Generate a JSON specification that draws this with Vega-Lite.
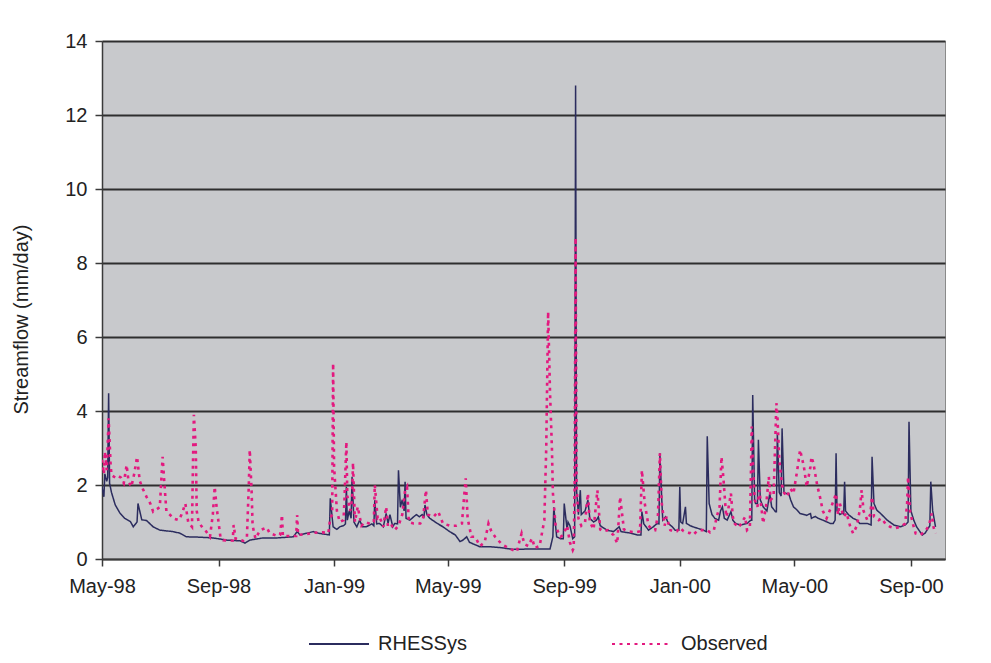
{
  "$schema": "https://vega.github.io/schema/vega-lite/v6.json",
  "width": 843,
  "height": 518,
  "autosize": {"type": "none"},
  "padding": {"left": 102, "top": 41, "right": 46, "bottom": 104},
  "background": "white",
  "config": {
    "font": "Liberation Sans",
    "view": {"fill": "#c8c9cc", "stroke": "#8a8a8a", "strokeWidth": 1}
  },
  "data": {"values": [
    {"series":"RHESSys","date":"1998-05-01","flow":1.95},
    {"series":"RHESSys","date":"1998-05-03","flow":1.68},
    {"series":"RHESSys","date":"1998-05-04","flow":2.3},
    {"series":"RHESSys","date":"1998-05-06","flow":2.1},
    {"series":"RHESSys","date":"1998-05-07","flow":2.2},
    {"series":"RHESSys","date":"1998-05-08","flow":4.48},
    {"series":"RHESSys","date":"1998-05-09","flow":2.05},
    {"series":"RHESSys","date":"1998-05-11","flow":1.8},
    {"series":"RHESSys","date":"1998-05-15","flow":1.46},
    {"series":"RHESSys","date":"1998-05-20","flow":1.24},
    {"series":"RHESSys","date":"1998-05-25","flow":1.1},
    {"series":"RHESSys","date":"1998-05-31","flow":1.01},
    {"series":"RHESSys","date":"1998-06-03","flow":0.87},
    {"series":"RHESSys","date":"1998-06-07","flow":1.0},
    {"series":"RHESSys","date":"1998-06-08","flow":1.5},
    {"series":"RHESSys","date":"1998-06-12","flow":1.06},
    {"series":"RHESSys","date":"1998-06-17","flow":1.04},
    {"series":"RHESSys","date":"1998-06-24","flow":0.87},
    {"series":"RHESSys","date":"1998-07-01","flow":0.78},
    {"series":"RHESSys","date":"1998-07-08","flow":0.76},
    {"series":"RHESSys","date":"1998-07-15","flow":0.74},
    {"series":"RHESSys","date":"1998-07-22","flow":0.7},
    {"series":"RHESSys","date":"1998-07-29","flow":0.6},
    {"series":"RHESSys","date":"1998-08-12","flow":0.59},
    {"series":"RHESSys","date":"1998-08-26","flow":0.57},
    {"series":"RHESSys","date":"1998-09-10","flow":0.51},
    {"series":"RHESSys","date":"1998-09-24","flow":0.49},
    {"series":"RHESSys","date":"1998-09-29","flow":0.43},
    {"series":"RHESSys","date":"1998-10-04","flow":0.51},
    {"series":"RHESSys","date":"1998-10-18","flow":0.57},
    {"series":"RHESSys","date":"1998-11-02","flow":0.57},
    {"series":"RHESSys","date":"1998-11-19","flow":0.6},
    {"series":"RHESSys","date":"1998-11-23","flow":0.74},
    {"series":"RHESSys","date":"1998-11-26","flow":0.65},
    {"series":"RHESSys","date":"1998-12-10","flow":0.74},
    {"series":"RHESSys","date":"1998-12-15","flow":0.7},
    {"series":"RHESSys","date":"1998-12-27","flow":0.65},
    {"series":"RHESSys","date":"1998-12-28","flow":1.64},
    {"series":"RHESSys","date":"1998-12-31","flow":0.87},
    {"series":"RHESSys","date":"1999-01-04","flow":0.8},
    {"series":"RHESSys","date":"1999-01-07","flow":0.87},
    {"series":"RHESSys","date":"1999-01-11","flow":0.9},
    {"series":"RHESSys","date":"1999-01-13","flow":0.95},
    {"series":"RHESSys","date":"1999-01-14","flow":1.95},
    {"series":"RHESSys","date":"1999-01-15","flow":1.05},
    {"series":"RHESSys","date":"1999-01-17","flow":1.3},
    {"series":"RHESSys","date":"1999-01-19","flow":1.1},
    {"series":"RHESSys","date":"1999-01-20","flow":2.22},
    {"series":"RHESSys","date":"1999-01-22","flow":1.0},
    {"series":"RHESSys","date":"1999-01-25","flow":0.87},
    {"series":"RHESSys","date":"1999-01-28","flow":1.05},
    {"series":"RHESSys","date":"1999-01-31","flow":0.87},
    {"series":"RHESSys","date":"1999-02-04","flow":0.87},
    {"series":"RHESSys","date":"1999-02-10","flow":0.95},
    {"series":"RHESSys","date":"1999-02-12","flow":0.9},
    {"series":"RHESSys","date":"1999-02-13","flow":1.59},
    {"series":"RHESSys","date":"1999-02-15","flow":0.95},
    {"series":"RHESSys","date":"1999-02-18","flow":0.96},
    {"series":"RHESSys","date":"1999-02-22","flow":0.87},
    {"series":"RHESSys","date":"1999-02-25","flow":1.23},
    {"series":"RHESSys","date":"1999-02-27","flow":0.96},
    {"series":"RHESSys","date":"1999-03-01","flow":1.2},
    {"series":"RHESSys","date":"1999-03-04","flow":0.87},
    {"series":"RHESSys","date":"1999-03-06","flow":0.96},
    {"series":"RHESSys","date":"1999-03-09","flow":0.95},
    {"series":"RHESSys","date":"1999-03-10","flow":2.4},
    {"series":"RHESSys","date":"1999-03-12","flow":1.4},
    {"series":"RHESSys","date":"1999-03-14","flow":1.6},
    {"series":"RHESSys","date":"1999-03-16","flow":1.3},
    {"series":"RHESSys","date":"1999-03-17","flow":2.09},
    {"series":"RHESSys","date":"1999-03-18","flow":1.1},
    {"series":"RHESSys","date":"1999-03-22","flow":1.05},
    {"series":"RHESSys","date":"1999-03-26","flow":1.14},
    {"series":"RHESSys","date":"1999-03-29","flow":1.2},
    {"series":"RHESSys","date":"1999-04-01","flow":1.14},
    {"series":"RHESSys","date":"1999-04-04","flow":1.2},
    {"series":"RHESSys","date":"1999-04-06","flow":1.15},
    {"series":"RHESSys","date":"1999-04-07","flow":1.46},
    {"series":"RHESSys","date":"1999-04-09","flow":1.2},
    {"series":"RHESSys","date":"1999-04-12","flow":1.1},
    {"series":"RHESSys","date":"1999-04-20","flow":0.96},
    {"series":"RHESSys","date":"1999-04-26","flow":0.87},
    {"series":"RHESSys","date":"1999-05-03","flow":0.74},
    {"series":"RHESSys","date":"1999-05-09","flow":0.65},
    {"series":"RHESSys","date":"1999-05-14","flow":0.47},
    {"series":"RHESSys","date":"1999-05-17","flow":0.51},
    {"series":"RHESSys","date":"1999-05-21","flow":0.6},
    {"series":"RHESSys","date":"1999-05-24","flow":0.45},
    {"series":"RHESSys","date":"1999-06-04","flow":0.33},
    {"series":"RHESSys","date":"1999-06-15","flow":0.33},
    {"series":"RHESSys","date":"1999-06-25","flow":0.31},
    {"series":"RHESSys","date":"1999-07-09","flow":0.26},
    {"series":"RHESSys","date":"1999-07-27","flow":0.27},
    {"series":"RHESSys","date":"1999-08-17","flow":0.27},
    {"series":"RHESSys","date":"1999-08-20","flow":0.6},
    {"series":"RHESSys","date":"1999-08-21","flow":1.4},
    {"series":"RHESSys","date":"1999-08-24","flow":0.6},
    {"series":"RHESSys","date":"1999-08-28","flow":0.55},
    {"series":"RHESSys","date":"1999-08-31","flow":0.55},
    {"series":"RHESSys","date":"1999-09-01","flow":1.5},
    {"series":"RHESSys","date":"1999-09-04","flow":0.8},
    {"series":"RHESSys","date":"1999-09-05","flow":1.0},
    {"series":"RHESSys","date":"1999-09-07","flow":0.9},
    {"series":"RHESSys","date":"1999-09-10","flow":0.55},
    {"series":"RHESSys","date":"1999-09-12","flow":0.6},
    {"series":"RHESSys","date":"1999-09-13","flow":12.8},
    {"series":"RHESSys","date":"1999-09-14","flow":1.86},
    {"series":"RHESSys","date":"1999-09-16","flow":1.2},
    {"series":"RHESSys","date":"1999-09-18","flow":1.86},
    {"series":"RHESSys","date":"1999-09-19","flow":1.2},
    {"series":"RHESSys","date":"1999-09-23","flow":1.3},
    {"series":"RHESSys","date":"1999-09-26","flow":1.59},
    {"series":"RHESSys","date":"1999-09-28","flow":1.1},
    {"series":"RHESSys","date":"1999-10-02","flow":1.0},
    {"series":"RHESSys","date":"1999-10-05","flow":1.05},
    {"series":"RHESSys","date":"1999-10-07","flow":1.14},
    {"series":"RHESSys","date":"1999-10-09","flow":0.9},
    {"series":"RHESSys","date":"1999-10-16","flow":0.78},
    {"series":"RHESSys","date":"1999-10-23","flow":0.74},
    {"series":"RHESSys","date":"1999-10-29","flow":0.87},
    {"series":"RHESSys","date":"1999-10-31","flow":0.74},
    {"series":"RHESSys","date":"1999-11-10","flow":0.7},
    {"series":"RHESSys","date":"1999-11-17","flow":0.65},
    {"series":"RHESSys","date":"1999-11-21","flow":0.65},
    {"series":"RHESSys","date":"1999-11-22","flow":1.28},
    {"series":"RHESSys","date":"1999-11-24","flow":0.95},
    {"series":"RHESSys","date":"1999-11-29","flow":0.78},
    {"series":"RHESSys","date":"1999-12-04","flow":0.87},
    {"series":"RHESSys","date":"1999-12-08","flow":0.96},
    {"series":"RHESSys","date":"1999-12-10","flow":0.95},
    {"series":"RHESSys","date":"1999-12-11","flow":2.86},
    {"series":"RHESSys","date":"1999-12-13","flow":1.6},
    {"series":"RHESSys","date":"1999-12-14","flow":1.05},
    {"series":"RHESSys","date":"1999-12-17","flow":1.14},
    {"series":"RHESSys","date":"1999-12-20","flow":0.96},
    {"series":"RHESSys","date":"1999-12-24","flow":0.87},
    {"series":"RHESSys","date":"1999-12-27","flow":0.78},
    {"series":"RHESSys","date":"1999-12-31","flow":0.78},
    {"series":"RHESSys","date":"2000-01-01","flow":1.95},
    {"series":"RHESSys","date":"2000-01-02","flow":1.0},
    {"series":"RHESSys","date":"2000-01-04","flow":0.96},
    {"series":"RHESSys","date":"2000-01-07","flow":1.41},
    {"series":"RHESSys","date":"2000-01-08","flow":0.96},
    {"series":"RHESSys","date":"2000-01-12","flow":0.9},
    {"series":"RHESSys","date":"2000-01-15","flow":0.87},
    {"series":"RHESSys","date":"2000-01-21","flow":0.82},
    {"series":"RHESSys","date":"2000-01-26","flow":0.78},
    {"series":"RHESSys","date":"2000-01-29","flow":0.74},
    {"series":"RHESSys","date":"2000-01-30","flow":3.32},
    {"series":"RHESSys","date":"2000-02-01","flow":1.5},
    {"series":"RHESSys","date":"2000-02-04","flow":1.2},
    {"series":"RHESSys","date":"2000-02-07","flow":1.1},
    {"series":"RHESSys","date":"2000-02-11","flow":1.05},
    {"series":"RHESSys","date":"2000-02-13","flow":1.3},
    {"series":"RHESSys","date":"2000-02-15","flow":1.41},
    {"series":"RHESSys","date":"2000-02-17","flow":1.1},
    {"series":"RHESSys","date":"2000-02-20","flow":1.05},
    {"series":"RHESSys","date":"2000-02-24","flow":1.28},
    {"series":"RHESSys","date":"2000-02-26","flow":1.05},
    {"series":"RHESSys","date":"2000-02-29","flow":0.96},
    {"series":"RHESSys","date":"2000-03-05","flow":0.92},
    {"series":"RHESSys","date":"2000-03-12","flow":0.96},
    {"series":"RHESSys","date":"2000-03-16","flow":1.05},
    {"series":"RHESSys","date":"2000-03-17","flow":1.05},
    {"series":"RHESSys","date":"2000-03-18","flow":4.43},
    {"series":"RHESSys","date":"2000-03-20","flow":1.6},
    {"series":"RHESSys","date":"2000-03-21","flow":1.5},
    {"series":"RHESSys","date":"2000-03-23","flow":1.5},
    {"series":"RHESSys","date":"2000-03-24","flow":3.22},
    {"series":"RHESSys","date":"2000-03-26","flow":1.6},
    {"series":"RHESSys","date":"2000-03-29","flow":1.41},
    {"series":"RHESSys","date":"2000-04-02","flow":1.3},
    {"series":"RHESSys","date":"2000-04-05","flow":1.77},
    {"series":"RHESSys","date":"2000-04-07","flow":1.41},
    {"series":"RHESSys","date":"2000-04-11","flow":1.28},
    {"series":"RHESSys","date":"2000-04-12","flow":1.28},
    {"series":"RHESSys","date":"2000-04-13","flow":3.4},
    {"series":"RHESSys","date":"2000-04-15","flow":1.8},
    {"series":"RHESSys","date":"2000-04-17","flow":1.7},
    {"series":"RHESSys","date":"2000-04-18","flow":3.53},
    {"series":"RHESSys","date":"2000-04-20","flow":1.8},
    {"series":"RHESSys","date":"2000-04-22","flow":1.77},
    {"series":"RHESSys","date":"2000-04-25","flow":1.77},
    {"series":"RHESSys","date":"2000-04-27","flow":1.6},
    {"series":"RHESSys","date":"2000-04-30","flow":1.41},
    {"series":"RHESSys","date":"2000-05-04","flow":1.32},
    {"series":"RHESSys","date":"2000-05-07","flow":1.23},
    {"series":"RHESSys","date":"2000-05-14","flow":1.18},
    {"series":"RHESSys","date":"2000-05-18","flow":1.23},
    {"series":"RHESSys","date":"2000-05-19","flow":1.1},
    {"series":"RHESSys","date":"2000-05-23","flow":1.15},
    {"series":"RHESSys","date":"2000-05-26","flow":1.1},
    {"series":"RHESSys","date":"2000-05-31","flow":1.05},
    {"series":"RHESSys","date":"2000-06-08","flow":0.96},
    {"series":"RHESSys","date":"2000-06-11","flow":0.96},
    {"series":"RHESSys","date":"2000-06-13","flow":1.05},
    {"series":"RHESSys","date":"2000-06-14","flow":2.86},
    {"series":"RHESSys","date":"2000-06-15","flow":1.3},
    {"series":"RHESSys","date":"2000-06-18","flow":1.2},
    {"series":"RHESSys","date":"2000-06-21","flow":1.25},
    {"series":"RHESSys","date":"2000-06-22","flow":1.2},
    {"series":"RHESSys","date":"2000-06-23","flow":2.09},
    {"series":"RHESSys","date":"2000-06-24","flow":1.3},
    {"series":"RHESSys","date":"2000-06-27","flow":1.2},
    {"series":"RHESSys","date":"2000-07-02","flow":1.1},
    {"series":"RHESSys","date":"2000-07-06","flow":1.05},
    {"series":"RHESSys","date":"2000-07-09","flow":0.96},
    {"series":"RHESSys","date":"2000-07-17","flow":0.96},
    {"series":"RHESSys","date":"2000-07-21","flow":0.92},
    {"series":"RHESSys","date":"2000-07-22","flow":2.76},
    {"series":"RHESSys","date":"2000-07-24","flow":1.5},
    {"series":"RHESSys","date":"2000-07-27","flow":1.32},
    {"series":"RHESSys","date":"2000-07-31","flow":1.23},
    {"series":"RHESSys","date":"2000-08-07","flow":1.05},
    {"series":"RHESSys","date":"2000-08-14","flow":0.92},
    {"series":"RHESSys","date":"2000-08-21","flow":0.87},
    {"series":"RHESSys","date":"2000-08-26","flow":0.92},
    {"series":"RHESSys","date":"2000-08-29","flow":1.0},
    {"series":"RHESSys","date":"2000-08-30","flow":3.71},
    {"series":"RHESSys","date":"2000-09-01","flow":1.3},
    {"series":"RHESSys","date":"2000-09-04","flow":1.05},
    {"series":"RHESSys","date":"2000-09-07","flow":0.87},
    {"series":"RHESSys","date":"2000-09-13","flow":0.65},
    {"series":"RHESSys","date":"2000-09-16","flow":0.7},
    {"series":"RHESSys","date":"2000-09-21","flow":0.9},
    {"series":"RHESSys","date":"2000-09-22","flow":2.09},
    {"series":"RHESSys","date":"2000-09-24","flow":1.3},
    {"series":"RHESSys","date":"2000-09-27","flow":0.87},
    {"series":"Observed","date":"1998-05-01","flow":2.68},
    {"series":"Observed","date":"1998-05-03","flow":2.3},
    {"series":"Observed","date":"1998-05-04","flow":2.9},
    {"series":"Observed","date":"1998-05-06","flow":2.4},
    {"series":"Observed","date":"1998-05-07","flow":3.1},
    {"series":"Observed","date":"1998-05-08","flow":3.8},
    {"series":"Observed","date":"1998-05-10","flow":2.6},
    {"series":"Observed","date":"1998-05-11","flow":2.27},
    {"series":"Observed","date":"1998-05-15","flow":2.2},
    {"series":"Observed","date":"1998-05-18","flow":2.25},
    {"series":"Observed","date":"1998-05-21","flow":2.2},
    {"series":"Observed","date":"1998-05-24","flow":2.05},
    {"series":"Observed","date":"1998-05-27","flow":2.54},
    {"series":"Observed","date":"1998-05-29","flow":2.1},
    {"series":"Observed","date":"1998-06-01","flow":1.95},
    {"series":"Observed","date":"1998-06-04","flow":2.3},
    {"series":"Observed","date":"1998-06-07","flow":2.76},
    {"series":"Observed","date":"1998-06-09","flow":2.3},
    {"series":"Observed","date":"1998-06-10","flow":2.1},
    {"series":"Observed","date":"1998-06-13","flow":1.9},
    {"series":"Observed","date":"1998-06-17","flow":1.68},
    {"series":"Observed","date":"1998-06-21","flow":1.5},
    {"series":"Observed","date":"1998-06-24","flow":1.28},
    {"series":"Observed","date":"1998-06-28","flow":1.35},
    {"series":"Observed","date":"1998-07-01","flow":1.4},
    {"series":"Observed","date":"1998-07-04","flow":2.76},
    {"series":"Observed","date":"1998-07-06","flow":2.0},
    {"series":"Observed","date":"1998-07-08","flow":1.28},
    {"series":"Observed","date":"1998-07-12","flow":1.19},
    {"series":"Observed","date":"1998-07-15","flow":1.1},
    {"series":"Observed","date":"1998-07-21","flow":1.05},
    {"series":"Observed","date":"1998-07-24","flow":1.2},
    {"series":"Observed","date":"1998-07-28","flow":1.5},
    {"series":"Observed","date":"1998-07-31","flow":1.0},
    {"series":"Observed","date":"1998-08-04","flow":0.87},
    {"series":"Observed","date":"1998-08-05","flow":2.5},
    {"series":"Observed","date":"1998-08-06","flow":3.9},
    {"series":"Observed","date":"1998-08-08","flow":3.0},
    {"series":"Observed","date":"1998-08-09","flow":1.3},
    {"series":"Observed","date":"1998-08-11","flow":1.0},
    {"series":"Observed","date":"1998-08-15","flow":0.85},
    {"series":"Observed","date":"1998-08-18","flow":0.78},
    {"series":"Observed","date":"1998-08-23","flow":0.6},
    {"series":"Observed","date":"1998-08-26","flow":1.2},
    {"series":"Observed","date":"1998-08-28","flow":1.95},
    {"series":"Observed","date":"1998-08-30","flow":1.4},
    {"series":"Observed","date":"1998-09-03","flow":0.6},
    {"series":"Observed","date":"1998-09-06","flow":0.51},
    {"series":"Observed","date":"1998-09-11","flow":0.5},
    {"series":"Observed","date":"1998-09-16","flow":0.5},
    {"series":"Observed","date":"1998-09-17","flow":0.92},
    {"series":"Observed","date":"1998-09-19","flow":0.55},
    {"series":"Observed","date":"1998-09-27","flow":0.49},
    {"series":"Observed","date":"1998-10-01","flow":0.6},
    {"series":"Observed","date":"1998-10-03","flow":2.0},
    {"series":"Observed","date":"1998-10-04","flow":2.95},
    {"series":"Observed","date":"1998-10-06","flow":1.8},
    {"series":"Observed","date":"1998-10-07","flow":0.9},
    {"series":"Observed","date":"1998-10-10","flow":0.55},
    {"series":"Observed","date":"1998-10-15","flow":0.78},
    {"series":"Observed","date":"1998-10-22","flow":0.85},
    {"series":"Observed","date":"1998-10-25","flow":0.7},
    {"series":"Observed","date":"1998-11-02","flow":0.62},
    {"series":"Observed","date":"1998-11-05","flow":0.65},
    {"series":"Observed","date":"1998-11-07","flow":1.19},
    {"series":"Observed","date":"1998-11-08","flow":0.62},
    {"series":"Observed","date":"1998-11-16","flow":0.62},
    {"series":"Observed","date":"1998-11-22","flow":0.62},
    {"series":"Observed","date":"1998-11-23","flow":1.19},
    {"series":"Observed","date":"1998-11-24","flow":0.65},
    {"series":"Observed","date":"1998-12-03","flow":0.67},
    {"series":"Observed","date":"1998-12-08","flow":0.7},
    {"series":"Observed","date":"1998-12-15","flow":0.72},
    {"series":"Observed","date":"1998-12-20","flow":0.72},
    {"series":"Observed","date":"1998-12-26","flow":0.7},
    {"series":"Observed","date":"1998-12-28","flow":1.1},
    {"series":"Observed","date":"1998-12-30","flow":1.2},
    {"series":"Observed","date":"1998-12-31","flow":5.29},
    {"series":"Observed","date":"1999-01-01","flow":2.5},
    {"series":"Observed","date":"1999-01-04","flow":1.3},
    {"series":"Observed","date":"1999-01-07","flow":1.0},
    {"series":"Observed","date":"1999-01-11","flow":1.05},
    {"series":"Observed","date":"1999-01-12","flow":1.6},
    {"series":"Observed","date":"1999-01-14","flow":3.17},
    {"series":"Observed","date":"1999-01-15","flow":1.7},
    {"series":"Observed","date":"1999-01-18","flow":1.3},
    {"series":"Observed","date":"1999-01-20","flow":1.6},
    {"series":"Observed","date":"1999-01-21","flow":2.6},
    {"series":"Observed","date":"1999-01-23","flow":1.0},
    {"series":"Observed","date":"1999-01-26","flow":1.41},
    {"series":"Observed","date":"1999-01-30","flow":0.9},
    {"series":"Observed","date":"1999-02-03","flow":1.0},
    {"series":"Observed","date":"1999-02-08","flow":0.95},
    {"series":"Observed","date":"1999-02-12","flow":1.0},
    {"series":"Observed","date":"1999-02-13","flow":2.0},
    {"series":"Observed","date":"1999-02-16","flow":1.1},
    {"series":"Observed","date":"1999-02-18","flow":1.14},
    {"series":"Observed","date":"1999-02-22","flow":0.87},
    {"series":"Observed","date":"1999-02-25","flow":1.41},
    {"series":"Observed","date":"1999-02-27","flow":0.85},
    {"series":"Observed","date":"1999-03-03","flow":0.9},
    {"series":"Observed","date":"1999-03-06","flow":0.78},
    {"series":"Observed","date":"1999-03-10","flow":0.9},
    {"series":"Observed","date":"1999-03-14","flow":1.2},
    {"series":"Observed","date":"1999-03-17","flow":1.86},
    {"series":"Observed","date":"1999-03-19","flow":1.95},
    {"series":"Observed","date":"1999-03-21","flow":1.0},
    {"series":"Observed","date":"1999-03-26","flow":0.96},
    {"series":"Observed","date":"1999-04-02","flow":0.96},
    {"series":"Observed","date":"1999-04-05","flow":1.1},
    {"series":"Observed","date":"1999-04-08","flow":1.86},
    {"series":"Observed","date":"1999-04-10","flow":1.2},
    {"series":"Observed","date":"1999-04-16","flow":1.14},
    {"series":"Observed","date":"1999-04-21","flow":1.28},
    {"series":"Observed","date":"1999-04-26","flow":0.96},
    {"series":"Observed","date":"1999-05-03","flow":0.9},
    {"series":"Observed","date":"1999-05-10","flow":0.9},
    {"series":"Observed","date":"1999-05-16","flow":0.96},
    {"series":"Observed","date":"1999-05-18","flow":1.6},
    {"series":"Observed","date":"1999-05-20","flow":2.18},
    {"series":"Observed","date":"1999-05-22","flow":1.1},
    {"series":"Observed","date":"1999-05-26","flow":0.6},
    {"series":"Observed","date":"1999-05-30","flow":0.6},
    {"series":"Observed","date":"1999-06-04","flow":0.35},
    {"series":"Observed","date":"1999-06-09","flow":0.45},
    {"series":"Observed","date":"1999-06-13","flow":0.96},
    {"series":"Observed","date":"1999-06-16","flow":0.75},
    {"series":"Observed","date":"1999-06-20","flow":0.6},
    {"series":"Observed","date":"1999-06-27","flow":0.4},
    {"series":"Observed","date":"1999-07-04","flow":0.3},
    {"series":"Observed","date":"1999-07-09","flow":0.24},
    {"series":"Observed","date":"1999-07-13","flow":0.2},
    {"series":"Observed","date":"1999-07-16","flow":0.51},
    {"series":"Observed","date":"1999-07-18","flow":0.69},
    {"series":"Observed","date":"1999-07-21","flow":0.4},
    {"series":"Observed","date":"1999-07-25","flow":0.35},
    {"series":"Observed","date":"1999-07-29","flow":0.56},
    {"series":"Observed","date":"1999-08-01","flow":0.3},
    {"series":"Observed","date":"1999-08-06","flow":0.35},
    {"series":"Observed","date":"1999-08-11","flow":1.05},
    {"series":"Observed","date":"1999-08-13","flow":3.0},
    {"series":"Observed","date":"1999-08-15","flow":6.68},
    {"series":"Observed","date":"1999-08-17","flow":4.5},
    {"series":"Observed","date":"1999-08-19","flow":3.0},
    {"series":"Observed","date":"1999-08-20","flow":1.8},
    {"series":"Observed","date":"1999-08-23","flow":0.87},
    {"series":"Observed","date":"1999-08-28","flow":0.6},
    {"series":"Observed","date":"1999-08-31","flow":0.65},
    {"series":"Observed","date":"1999-09-04","flow":0.9},
    {"series":"Observed","date":"1999-09-07","flow":0.45},
    {"series":"Observed","date":"1999-09-10","flow":0.24},
    {"series":"Observed","date":"1999-09-11","flow":0.3},
    {"series":"Observed","date":"1999-09-12","flow":2.0},
    {"series":"Observed","date":"1999-09-13","flow":8.68},
    {"series":"Observed","date":"1999-09-14","flow":2.0},
    {"series":"Observed","date":"1999-09-16","flow":1.1},
    {"series":"Observed","date":"1999-09-19","flow":0.9},
    {"series":"Observed","date":"1999-09-23","flow":1.0},
    {"series":"Observed","date":"1999-09-26","flow":1.77},
    {"series":"Observed","date":"1999-09-28","flow":1.0},
    {"series":"Observed","date":"1999-10-02","flow":0.8},
    {"series":"Observed","date":"1999-10-06","flow":1.86},
    {"series":"Observed","date":"1999-10-09","flow":0.8},
    {"series":"Observed","date":"1999-10-12","flow":0.75},
    {"series":"Observed","date":"1999-10-17","flow":0.78},
    {"series":"Observed","date":"1999-10-23","flow":0.65},
    {"series":"Observed","date":"1999-10-27","flow":0.42},
    {"series":"Observed","date":"1999-10-30","flow":1.68},
    {"series":"Observed","date":"1999-11-03","flow":0.8},
    {"series":"Observed","date":"1999-11-07","flow":0.75},
    {"series":"Observed","date":"1999-11-15","flow":0.72},
    {"series":"Observed","date":"1999-11-20","flow":0.75},
    {"series":"Observed","date":"1999-11-22","flow":2.4},
    {"series":"Observed","date":"1999-11-25","flow":1.5},
    {"series":"Observed","date":"1999-11-29","flow":0.9},
    {"series":"Observed","date":"1999-12-03","flow":0.8},
    {"series":"Observed","date":"1999-12-06","flow":0.78},
    {"series":"Observed","date":"1999-12-09","flow":1.2},
    {"series":"Observed","date":"1999-12-11","flow":2.86},
    {"series":"Observed","date":"1999-12-13","flow":1.5},
    {"series":"Observed","date":"1999-12-16","flow":0.9},
    {"series":"Observed","date":"1999-12-18","flow":1.14},
    {"series":"Observed","date":"1999-12-22","flow":0.78},
    {"series":"Observed","date":"1999-12-25","flow":0.75},
    {"series":"Observed","date":"1999-12-29","flow":0.75},
    {"series":"Observed","date":"2000-01-01","flow":0.85},
    {"series":"Observed","date":"2000-01-05","flow":0.75},
    {"series":"Observed","date":"2000-01-08","flow":0.72},
    {"series":"Observed","date":"2000-01-12","flow":0.7},
    {"series":"Observed","date":"2000-01-15","flow":0.65},
    {"series":"Observed","date":"2000-01-19","flow":0.75},
    {"series":"Observed","date":"2000-01-22","flow":0.78},
    {"series":"Observed","date":"2000-01-30","flow":0.78},
    {"series":"Observed","date":"2000-02-02","flow":0.72},
    {"series":"Observed","date":"2000-02-06","flow":0.78},
    {"series":"Observed","date":"2000-02-09","flow":1.14},
    {"series":"Observed","date":"2000-02-12","flow":1.41},
    {"series":"Observed","date":"2000-02-14","flow":2.76},
    {"series":"Observed","date":"2000-02-16","flow":2.2},
    {"series":"Observed","date":"2000-02-19","flow":1.14},
    {"series":"Observed","date":"2000-02-21","flow":1.32},
    {"series":"Observed","date":"2000-02-24","flow":1.77},
    {"series":"Observed","date":"2000-02-26","flow":1.14},
    {"series":"Observed","date":"2000-02-28","flow":0.96},
    {"series":"Observed","date":"2000-03-03","flow":0.85},
    {"series":"Observed","date":"2000-03-06","flow":0.96},
    {"series":"Observed","date":"2000-03-10","flow":1.14},
    {"series":"Observed","date":"2000-03-12","flow":0.78},
    {"series":"Observed","date":"2000-03-15","flow":0.85},
    {"series":"Observed","date":"2000-03-17","flow":3.58},
    {"series":"Observed","date":"2000-03-18","flow":2.7},
    {"series":"Observed","date":"2000-03-20","flow":1.6},
    {"series":"Observed","date":"2000-03-23","flow":1.41},
    {"series":"Observed","date":"2000-03-25","flow":1.86},
    {"series":"Observed","date":"2000-03-28","flow":1.2},
    {"series":"Observed","date":"2000-03-29","flow":0.96},
    {"series":"Observed","date":"2000-04-01","flow":1.41},
    {"series":"Observed","date":"2000-04-04","flow":2.22},
    {"series":"Observed","date":"2000-04-06","flow":1.6},
    {"series":"Observed","date":"2000-04-09","flow":1.68},
    {"series":"Observed","date":"2000-04-12","flow":4.21},
    {"series":"Observed","date":"2000-04-13","flow":3.9},
    {"series":"Observed","date":"2000-04-15","flow":2.7},
    {"series":"Observed","date":"2000-04-18","flow":2.0},
    {"series":"Observed","date":"2000-04-20","flow":1.8},
    {"series":"Observed","date":"2000-04-23","flow":1.68},
    {"series":"Observed","date":"2000-04-27","flow":1.9},
    {"series":"Observed","date":"2000-04-30","flow":1.77},
    {"series":"Observed","date":"2000-05-04","flow":2.4},
    {"series":"Observed","date":"2000-05-07","flow":2.95},
    {"series":"Observed","date":"2000-05-11","flow":2.5},
    {"series":"Observed","date":"2000-05-14","flow":1.95},
    {"series":"Observed","date":"2000-05-18","flow":2.5},
    {"series":"Observed","date":"2000-05-19","flow":2.76},
    {"series":"Observed","date":"2000-05-21","flow":2.6},
    {"series":"Observed","date":"2000-05-25","flow":2.0},
    {"series":"Observed","date":"2000-05-28","flow":1.68},
    {"series":"Observed","date":"2000-05-31","flow":1.3},
    {"series":"Observed","date":"2000-06-04","flow":1.1},
    {"series":"Observed","date":"2000-06-08","flow":1.35},
    {"series":"Observed","date":"2000-06-11","flow":1.55},
    {"series":"Observed","date":"2000-06-14","flow":1.77},
    {"series":"Observed","date":"2000-06-16","flow":1.2},
    {"series":"Observed","date":"2000-06-18","flow":1.5},
    {"series":"Observed","date":"2000-06-22","flow":1.14},
    {"series":"Observed","date":"2000-06-25","flow":1.25},
    {"series":"Observed","date":"2000-06-29","flow":0.87},
    {"series":"Observed","date":"2000-07-02","flow":0.69},
    {"series":"Observed","date":"2000-07-06","flow":0.9},
    {"series":"Observed","date":"2000-07-09","flow":1.32},
    {"series":"Observed","date":"2000-07-11","flow":1.86},
    {"series":"Observed","date":"2000-07-13","flow":1.3},
    {"series":"Observed","date":"2000-07-17","flow":1.05},
    {"series":"Observed","date":"2000-07-20","flow":1.2},
    {"series":"Observed","date":"2000-07-22","flow":1.68},
    {"series":"Observed","date":"2000-07-24","flow":1.15},
    {"series":"Observed","date":"2000-07-29","flow":1.05},
    {"series":"Observed","date":"2000-08-01","flow":1.1},
    {"series":"Observed","date":"2000-08-05","flow":0.96},
    {"series":"Observed","date":"2000-08-10","flow":0.87},
    {"series":"Observed","date":"2000-08-15","flow":0.83},
    {"series":"Observed","date":"2000-08-21","flow":0.87},
    {"series":"Observed","date":"2000-08-26","flow":0.96},
    {"series":"Observed","date":"2000-08-28","flow":1.5},
    {"series":"Observed","date":"2000-08-29","flow":2.22},
    {"series":"Observed","date":"2000-08-31","flow":1.3},
    {"series":"Observed","date":"2000-09-03","flow":0.96},
    {"series":"Observed","date":"2000-09-06","flow":0.69},
    {"series":"Observed","date":"2000-09-11","flow":0.65},
    {"series":"Observed","date":"2000-09-16","flow":0.75},
    {"series":"Observed","date":"2000-09-20","flow":0.9},
    {"series":"Observed","date":"2000-09-23","flow":1.23},
    {"series":"Observed","date":"2000-09-25","flow":0.85},
    {"series":"Observed","date":"2000-09-27","flow":0.69}
  ]},
  "mark": {"type": "line", "clip": true},
  "encoding": {
    "x": {
      "field": "date",
      "type": "temporal",
      "scale": {
        "type": "utc",
        "domain": [
          {"year": 1998, "month": 5, "date": 1, "utc": true},
          {"year": 2000, "month": 10, "date": 7, "utc": true}
        ]
      },
      "axis": {
        "title": null,
        "values": [
          {"year": 1998, "month": 5, "date": 1, "utc": true},
          {"year": 1998, "month": 9, "date": 1, "utc": true},
          {"year": 1999, "month": 1, "date": 1, "utc": true},
          {"year": 1999, "month": 5, "date": 1, "utc": true},
          {"year": 1999, "month": 9, "date": 1, "utc": true},
          {"year": 2000, "month": 1, "date": 1, "utc": true},
          {"year": 2000, "month": 5, "date": 1, "utc": true},
          {"year": 2000, "month": 9, "date": 1, "utc": true}
        ],
        "labelExpr": "utcFormat(datum.value, '%b-%y')",
        "grid": false,
        "labelFlush": false,
        "labelOverlap": false,
        "labelFontSize": 20,
        "labelColor": "#222222",
        "labelPadding": 10,
        "tickSize": 7,
        "tickWidth": 1.5,
        "tickColor": "#3a3a3a",
        "domainColor": "#3a3a3a",
        "domainWidth": 1.5
      }
    },
    "y": {
      "field": "flow",
      "type": "quantitative",
      "scale": {"domain": [0, 14], "nice": false},
      "axis": {
        "title": "Streamflow (mm/day)",
        "values": [0, 2, 4, 6, 8, 10, 12, 14],
        "grid": true,
        "gridColor": "#2e2e2e",
        "gridWidth": 1.8,
        "domainColor": "#3a3a3a",
        "domainWidth": 1.5,
        "tickColor": "#3a3a3a",
        "tickSize": 7,
        "tickWidth": 1.5,
        "labelFontSize": 20,
        "labelColor": "#222222",
        "labelPadding": 8,
        "titleFontSize": 20,
        "titleFontWeight": "normal",
        "titleColor": "#222222",
        "titlePadding": 33,
        "titleY": 278
      }
    },
    "color": {
      "field": "series",
      "type": "nominal",
      "sort": ["RHESSys", "Observed"],
      "scale": {"domain": ["RHESSys", "Observed"], "range": ["#2b2c5e", "#e3197f"]},
      "legend": {
        "title": null,
        "orient": "none",
        "legendX": 206,
        "legendY": 572,
        "direction": "horizontal",
        "symbolType": "stroke",
        "symbolSize": 3600,
        "symbolStrokeWidth": 2,
        "labelFontSize": 20,
        "labelColor": "#222222",
        "labelOffset": 8,
        "columnPadding": 141
      }
    },
    "strokeDash": {
      "field": "series",
      "type": "nominal",
      "sort": ["RHESSys", "Observed"],
      "scale": {"domain": ["RHESSys", "Observed"], "range": [[1, 0], [3, 4.5]]}
    },
    "strokeWidth": {
      "condition": {"test": "datum.series === 'Observed'", "value": 2.6},
      "value": 1.5
    }
  }
}
